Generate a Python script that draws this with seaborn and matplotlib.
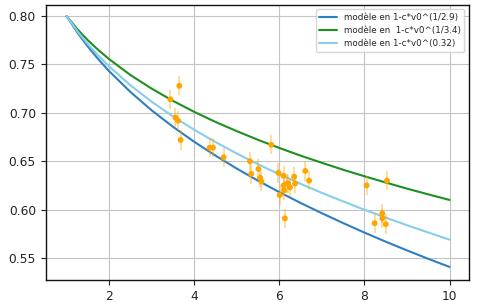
import numpy as np
import pandas as pd
import matplotlib
matplotlib.use("Agg")
import matplotlib.pyplot as plt
import seaborn as sns

# Model curves
x_model = [1, 1.25, 1.5, 1.75, 2, 2.5, 3, 3.5, 4, 4.5, 5, 5.5, 6, 6.5, 7, 7.5, 8, 8.5, 9, 9.5, 10]
y_blue = [0.800, 0.7832, 0.7685, 0.7552, 0.7431, 0.7216, 0.7026, 0.6856, 0.6701, 0.6558, 0.6424,
          0.6299, 0.6181, 0.6069, 0.5963, 0.5861, 0.5763, 0.5669, 0.5579, 0.5492, 0.5408]
y_green = [0.800, 0.7866, 0.7750, 0.7648, 0.7555, 0.7391, 0.7250, 0.7124, 0.7010, 0.6906, 0.6811,
           0.6721, 0.6637, 0.6558, 0.6484, 0.6412, 0.6345, 0.6280, 0.6217, 0.6158, 0.6100]
y_light = [0.800, 0.7846, 0.7710, 0.7590, 0.7480, 0.7285, 0.7115, 0.6963, 0.6825, 0.6698, 0.6580,
           0.6469, 0.6365, 0.6267, 0.6173, 0.6085, 0.5999, 0.5918, 0.5839, 0.5764, 0.5690]

labels = ["modèle en 1-c*v0^(1/2.9)", "modèle en  1-c*v0^(1/3.4)", "modèle en 1-c*v0^(0.32)"]

# Measurements
x_data = [3.44, 3.65, 3.56, 3.62, 3.68, 4.36, 4.44, 4.69, 5.31, 5.34, 5.51, 5.55, 5.58, 5.81,
          5.98, 6.01, 6.10, 6.10, 6.11, 6.13, 6.19, 6.21, 6.25, 6.35, 6.37, 6.61, 6.70,
          8.05, 8.53, 8.24, 8.42, 8.42, 8.50]
y_data = [0.714, 0.728, 0.695, 0.692, 0.672, 0.664, 0.664, 0.654, 0.650, 0.637, 0.642, 0.633, 0.629, 0.667,
          0.638, 0.615, 0.635, 0.625, 0.620, 0.591, 0.627, 0.627, 0.623, 0.634, 0.627, 0.640, 0.630,
          0.625, 0.630, 0.586, 0.596, 0.591, 0.585]
y_err = [0.01] * len(x_data)

sns.set_theme(style="ticks")
plt.rcParams['font.family'] = ['DejaVu Sans']

fig = plt.figure(figsize=(4.93, 3.02), dpi=100)
ax = fig.add_axes([0.0927, 0.0728, 0.858, 0.9116])

df = pd.DataFrame({"x": x_model, "b": y_blue, "g": y_green, "l": y_light})
sns.lineplot(data=df, x="x", y="b", ax=ax, color="#2f7fc0", linewidth=1.5, label=labels[0])
sns.lineplot(data=df, x="x", y="g", ax=ax, color="#1f8f1f", linewidth=1.5, label=labels[1])
sns.lineplot(data=df, x="x", y="l", ax=ax, color="#87ceeb", linewidth=1.5, label=labels[2])

ax.errorbar(x_data, y_data, yerr=y_err, fmt="none", ecolor="orange", alpha=0.45, elinewidth=1.2)
sns.scatterplot(x=x_data, y=y_data, ax=ax, color="orange", s=18, edgecolor="none", zorder=3)

ax.set_xlim(0.51, 10.45)
ax.set_ylim(0.5273, 0.8117)
ax.set_xticks([2, 4, 6, 8, 10])
ax.set_yticks([0.55, 0.60, 0.65, 0.70, 0.75, 0.80])
ax.set_yticklabels(["0.55", "0.60", "0.65", "0.70", "0.75", "0.80"])
ax.set_xlabel("")
ax.set_ylabel("")
ax.grid(True, color="#c4c4c4", linewidth=0.8)
ax.set_axisbelow(True)
ax.tick_params(labelsize=8.8, length=3.5, width=0.8, colors="#222222")
for s in ax.spines.values():
    s.set_color("#111111")
    s.set_linewidth(1.0)

ax.legend(loc="upper right", fontsize=6.3, frameon=True, framealpha=0.8, edgecolor="#cccccc",
          handlelength=2.0, borderpad=0.4, labelspacing=0.5)

fig.savefig("out.png", dpi=100)
